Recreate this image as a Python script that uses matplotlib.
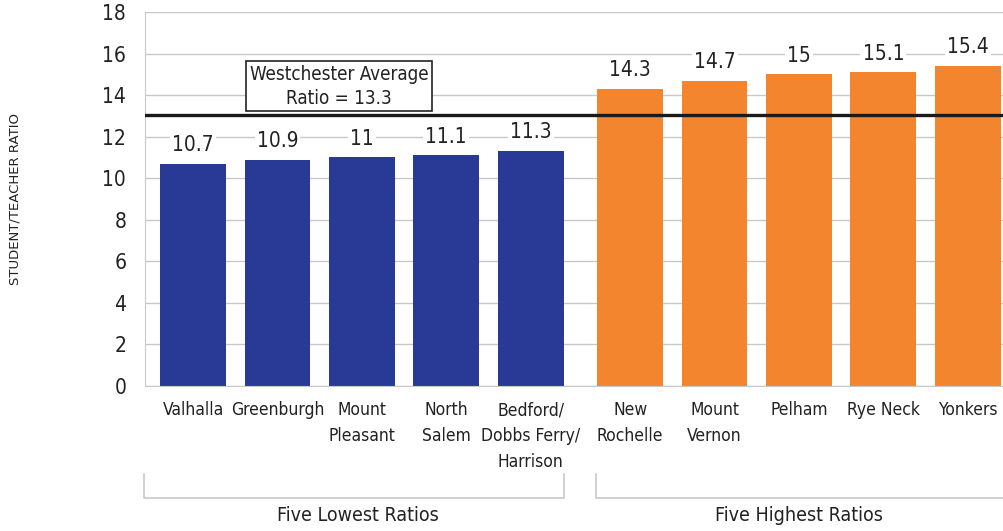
import matplotlib
matplotlib.use('Agg')
import matplotlib.pyplot as plt

plt.rcParams['font.family'] = ['DejaVu Sans']
plt.rcParams['font.stretch'] = 'condensed'

# data
districts = ['Valhalla', 'Greenburgh', 'Mount\nPleasant', 'North\nSalem', 'Bedford/\nDobbs Ferry/\nHarrison',
             'New\nRochelle', 'Mount\nVernon', 'Pelham', 'Rye Neck', 'Yonkers']
ratios = [10.7, 10.9, 11, 11.1, 11.3, 14.3, 14.7, 15, 15.1, 15.4]
value_labels = ['10.7', '10.9', '11', '11.1', '11.3', '14.3', '14.7', '15', '15.1', '15.4']
groups = ['Five Lowest Ratios', 'Five Highest Ratios']
avg_ratio = 13.3
avg_line_y = 13.05   # where the line sits in the picture
yticks = [0, 2, 4, 6, 8, 10, 12, 14, 16, 18]

blue = '#293a96'
orange = '#f3852e'
grey = '#c8c8c8'
txt = '#222222'

pos = [0, 1, 2, 3, 4, 5.18, 6.18, 7.18, 8.18, 9.18]
colors = [blue] * 5 + [orange] * 5

fig = plt.figure(figsize=(10.04, 5.31), dpi=100)
ax = fig.add_axes([0.1444, 0.2731, 0.8556, 0.7043])

ax.bar(pos, ratios, width=0.78, color=colors, zorder=2)
for x, v, t in zip(pos, ratios, value_labels):
    ax.text(x, v + 0.42, t, ha='center', va='bottom', fontsize=15, color=txt, zorder=4,
            bbox=dict(facecolor='white', edgecolor='none', pad=1.5))

ax.axhline(avg_line_y, color='#1a1a1a', lw=2.4, zorder=3)
ax.text(1.73, 14.42, 'Westchester Average\nRatio = %.1f' % avg_ratio, ha='center', va='center',
        fontsize=13.5, color=txt, linespacing=1.35, zorder=4,
        bbox=dict(facecolor='white', edgecolor='#222222', lw=1.2, boxstyle='square,pad=0.18'))

ax.set_xlim(-0.57, 9.61)
ax.set_ylim(0, 18)
ax.set_yticks(yticks)
ax.yaxis.grid(True, color=grey, lw=1, zorder=0)
ax.set_axisbelow(True)
for s in ['top', 'right']:
    ax.spines[s].set_visible(False)
ax.spines['left'].set_color(grey)
ax.spines['bottom'].set_color(grey)
ax.tick_params(axis='y', length=0, pad=13.5, labelsize=15, labelcolor=txt)
ax.set_xticks(pos)
ax.set_xticklabels(districts, fontsize=12.5, linespacing=1.55, color=txt)
ax.tick_params(axis='x', length=0, pad=11)

fig.text(0.015, 0.625, 'STUDENT/TEACHER RATIO', rotation=90, ha='center', va='center',
         fontsize=9.5, stretch='normal', color=txt)

# group brackets
tr = ax.get_xaxis_transform()
spans = [(-0.58, pos[4] + 0.39), (pos[5] - 0.41, 9.62)]
label_x = [1.95, 7.18]
for (x0, x1), lx, g in zip(spans, label_x, groups):
    ax.plot([x0, x0, x1, x1], [-0.235, -0.30, -0.30, -0.235], color=grey, lw=1.2,
            transform=tr, clip_on=False)
    ax.text(lx, -0.345, g, transform=tr, ha='center', va='center',
            fontsize=14, color=txt)

plt.savefig('out.png', dpi=100)
